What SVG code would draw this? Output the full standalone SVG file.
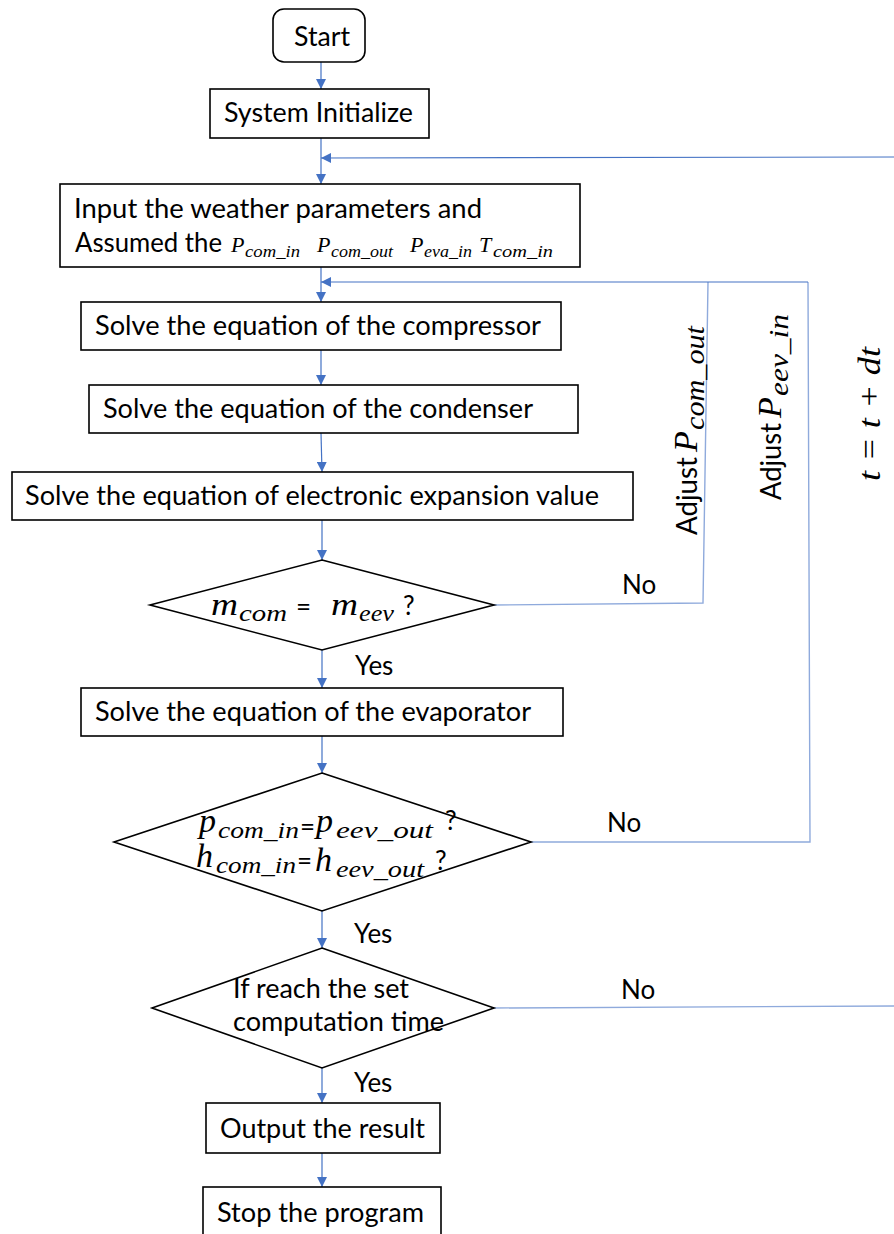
<svg xmlns="http://www.w3.org/2000/svg" width="894" height="1234" viewBox="0 0 894 1234">
  <style>
    .box { fill: #ffffff; stroke: #000000; stroke-width: 1.6; }
    .lbl { font-family: Lato, "Open Sans", "Liberation Sans", sans-serif; font-size: 26px; fill: #000000; }
    .math { font-family: "Liberation Serif", "DejaVu Serif", serif; font-style: italic; fill: #000000; }
    .flow { fill: none; stroke: #4472C4; stroke-width: 1.2; }
    .loop { fill: none; stroke: #8FAADC; stroke-width: 1.4; }
  </style>
  <defs>
    <marker id="arr" viewBox="0 0 10 10" refX="10" refY="5" markerWidth="10" markerHeight="10" markerUnits="userSpaceOnUse" orient="auto">
      <path d="M0,0 L10,5 L0,10 Z" fill="#4472C4"/>
    </marker>
  </defs>

  <rect width="894" height="1234" fill="#ffffff"/>

  <!-- connectors -->
  <g id="connectors">
    <line class="flow" x1="321" y1="62" x2="321" y2="89" marker-end="url(#arr)"/>
    <line class="flow" x1="321" y1="138" x2="321" y2="184" marker-end="url(#arr)"/>
    <line class="flow" x1="321" y1="267" x2="321" y2="302" marker-end="url(#arr)"/>
    <line class="flow" x1="321" y1="350" x2="321" y2="385" marker-end="url(#arr)"/>
    <line class="flow" x1="321" y1="433" x2="322" y2="472" marker-end="url(#arr)"/>
    <line class="flow" x1="322" y1="520" x2="322" y2="560" marker-end="url(#arr)"/>
    <line class="flow" x1="322" y1="650" x2="322" y2="688" marker-end="url(#arr)"/>
    <line class="flow" x1="322" y1="736" x2="322" y2="773" marker-end="url(#arr)"/>
    <line class="flow" x1="322" y1="911" x2="322" y2="948" marker-end="url(#arr)"/>
    <line class="flow" x1="322" y1="1068" x2="322" y2="1103" marker-end="url(#arr)"/>
    <line class="flow" x1="322" y1="1153" x2="322" y2="1187" marker-end="url(#arr)"/>

    <!-- time-step loop back to the weather input -->
    <polyline class="loop" points="494,1008 894,1006"/>
    <line class="flow" x1="894" y1="157" x2="321" y2="158" marker-end="url(#arr)"/>

    <!-- pressure correction loops back to the compressor -->
    <polyline class="loop" points="494,605 703,603 708,282"/>
    <polyline class="loop" points="531,842 810,842 808,282"/>
    <line class="flow" x1="808" y1="282" x2="321" y2="282" marker-end="url(#arr)"/>
  </g>

  <!-- nodes -->
  <g id="start">
    <rect class="box" x="273" y="9" width="92" height="53" rx="11"/>
    <text class="lbl" x="294" y="46" textLength="56" lengthAdjust="spacingAndGlyphs">Start</text>
  </g>

  <g id="init">
    <rect class="box" x="210" y="89" width="219" height="49"/>
    <text class="lbl" x="224" y="122" textLength="189" lengthAdjust="spacingAndGlyphs">System Initialize</text>
  </g>

  <g id="input">
    <rect class="box" x="60" y="184" width="520" height="83"/>
    <text class="lbl" x="74" y="218" textLength="408" lengthAdjust="spacingAndGlyphs">Input the weather parameters and</text>
    <text class="lbl" x="75" y="252" textLength="147" lengthAdjust="spacingAndGlyphs">Assumed the</text>
    <text class="math" x="231" y="252" font-size="22">P</text>
    <text class="math" x="245" y="257" font-size="17" textLength="55" lengthAdjust="spacingAndGlyphs">com_in</text>
    <text class="math" x="317" y="252" font-size="22">P</text>
    <text class="math" x="331" y="257" font-size="17" textLength="62" lengthAdjust="spacingAndGlyphs">com_out</text>
    <text class="math" x="410" y="252" font-size="22">P</text>
    <text class="math" x="424" y="257" font-size="17" textLength="48" lengthAdjust="spacingAndGlyphs">eva_in</text>
    <text class="math" x="479" y="252" font-size="22">T</text>
    <text class="math" x="493" y="257" font-size="17" textLength="60" lengthAdjust="spacingAndGlyphs">com_in</text>
  </g>

  <g id="compressor">
    <rect class="box" x="81" y="302" width="480" height="48"/>
    <text class="lbl" x="95" y="335" textLength="446" lengthAdjust="spacingAndGlyphs">Solve the equation of the compressor</text>
  </g>

  <g id="condenser">
    <rect class="box" x="89" y="385" width="489" height="48"/>
    <text class="lbl" x="103" y="418" textLength="430" lengthAdjust="spacingAndGlyphs">Solve the equation of the condenser</text>
  </g>

  <g id="eev">
    <rect class="box" x="12" y="472" width="621" height="48"/>
    <text class="lbl" x="25" y="505" textLength="574" lengthAdjust="spacingAndGlyphs">Solve the equation of electronic expansion value</text>
  </g>

  <g id="mass-check">
    <polygon class="box" points="322,560 494,605 322,650 150,605"/>
    <text class="math" x="211" y="615" font-size="32" textLength="27" lengthAdjust="spacingAndGlyphs">m</text>
    <text class="math" x="239" y="621" font-size="24" textLength="48" lengthAdjust="spacingAndGlyphs">com</text>
    <text class="lbl" x="296" y="616">=</text>
    <text class="math" x="331" y="615" font-size="32" textLength="27" lengthAdjust="spacingAndGlyphs">m</text>
    <text class="math" x="359" y="621" font-size="24" textLength="35" lengthAdjust="spacingAndGlyphs">eev</text>
    <text class="lbl" x="403" y="615">?</text>
    <text class="lbl" x="622" y="594">No</text>
    <text class="lbl" x="355" y="675">Yes</text>
  </g>

  <g id="evaporator">
    <rect class="box" x="81" y="688" width="482" height="48"/>
    <text class="lbl" x="95" y="721" textLength="436" lengthAdjust="spacingAndGlyphs">Solve the equation of the evaporator</text>
  </g>

  <g id="state-check">
    <polygon class="box" points="322,773 531,842 322,911 114,842"/>
    <text class="math" x="199" y="832" font-size="34">p</text>
    <text class="math" x="218" y="838" font-size="24" textLength="81" lengthAdjust="spacingAndGlyphs">com_in</text>
    <text class="lbl" x="300" y="836">=</text>
    <text class="math" x="316" y="832" font-size="34">p</text>
    <text class="math" x="336" y="838" font-size="24" textLength="97" lengthAdjust="spacingAndGlyphs">eev_out</text>
    <text class="lbl" x="445" y="830">?</text>
    <text class="math" x="196" y="867" font-size="34">h</text>
    <text class="math" x="216" y="873" font-size="24" textLength="80" lengthAdjust="spacingAndGlyphs">com_in</text>
    <text class="lbl" x="297" y="870">=</text>
    <text class="math" x="315" y="871" font-size="34">h</text>
    <text class="math" x="336" y="877" font-size="24" textLength="88" lengthAdjust="spacingAndGlyphs">eev_out</text>
    <text class="lbl" x="435" y="870">?</text>
    <text class="lbl" x="607" y="832">No</text>
    <text class="lbl" x="354" y="943">Yes</text>
  </g>

  <g id="time-check">
    <polygon class="box" points="322,948 494,1008 322,1068 152,1008"/>
    <text class="lbl" x="233" y="998" textLength="176" lengthAdjust="spacingAndGlyphs">If reach the set</text>
    <text class="lbl" x="233" y="1031" textLength="211" lengthAdjust="spacingAndGlyphs">computation time</text>
    <text class="lbl" x="621" y="999">No</text>
    <text class="lbl" x="354" y="1092">Yes</text>
  </g>

  <g id="output">
    <rect class="box" x="206" y="1103" width="234" height="50"/>
    <text class="lbl" x="220" y="1138" textLength="205" lengthAdjust="spacingAndGlyphs">Output the result</text>
  </g>

  <g id="stop">
    <rect class="box" x="203" y="1187" width="238" height="60"/>
    <text class="lbl" x="217" y="1222" textLength="207" lengthAdjust="spacingAndGlyphs">Stop the program</text>
  </g>

  <!-- rotated loop labels, drawn along the local x axis (upwards on the page) -->
  <g id="adjust-com-out" transform="translate(697,535) rotate(-90)">
    <text class="lbl" x="0" y="0" textLength="78" lengthAdjust="spacingAndGlyphs" style="font-size:29px">Adjust</text>
    <text class="math" x="83" y="0" font-size="34">P</text>
    <text class="math" x="105" y="7" font-size="27" textLength="104" lengthAdjust="spacingAndGlyphs">com_out</text>
  </g>
  <g id="adjust-eev-in" transform="translate(781,500) rotate(-90)">
    <text class="lbl" x="0" y="0" textLength="77" lengthAdjust="spacingAndGlyphs" style="font-size:29px">Adjust</text>
    <text class="math" x="82" y="0" font-size="34">P</text>
    <text class="math" x="104" y="7" font-size="27" textLength="82" lengthAdjust="spacingAndGlyphs">eev_in</text>
  </g>
  <g id="time-step" transform="translate(880,481) rotate(-90)">
    <text class="math" x="0" y="0" font-size="32" textLength="134" lengthAdjust="spacingAndGlyphs">t = t + dt</text>
  </g>
</svg>
